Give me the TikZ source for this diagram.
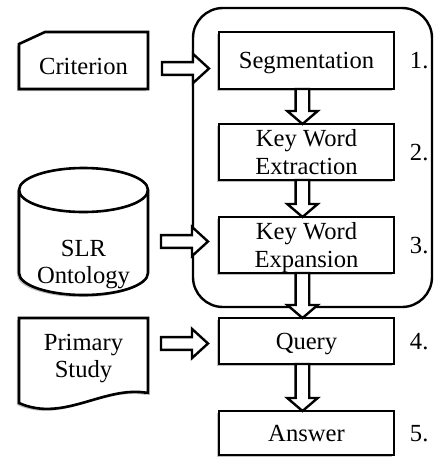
\documentclass[tikz,border=0pt]{standalone}
\usepackage{fontspec}
\setmainfont{Liberation Serif}
\usetikzlibrary{positioning,calc,shadows}

\newcommand{\fatright}[2]{%
  \draw[fat] let \p1=#1, \p2=#2 in
    (\x1,\y1+3.2pt) -- (\x2-8pt,\y1+3.2pt) -- (\x2-8pt,\y1+7.3pt) -- (\x2,\y1)
    -- (\x2-8pt,\y1-7.3pt) -- (\x2-8pt,\y1-3.2pt) -- (\x1,\y1-3.2pt) -- cycle;}
\newcommand{\fatdown}[2]{%
  \draw[fat] let \p1=#1, \p2=#2 in
    (\x1-3.4pt,\y1) -- (\x1-3.4pt,\y2+6.5pt) -- (\x1-7.6pt,\y2+6.5pt) -- (\x1,\y2)
    -- (\x1+7.6pt,\y2+6.5pt) -- (\x1+3.4pt,\y2+6.5pt) -- (\x1+3.4pt,\y1) -- cycle;}

\begin{document}
\begin{tikzpicture}[
  txt/.style={font=\fontsize{12.3}{13.6}\selectfont, align=center, text depth=-1.5pt},
  shade/.style={drop shadow={shadow xshift=-1pt, shadow yshift=-1pt, fill=black, opacity=.25}},
  box/.style={txt, draw, fill=white, line width=1.3pt, shade, minimum width=87.5pt, inner sep=1pt, outer sep=0pt},
  plain/.style={txt, minimum width=64.5pt, inner sep=1pt, outer sep=0pt},
  outline/.style={draw, fill=white, line width=1.3pt, line join=miter},
  num/.style={txt, inner sep=0pt, outer sep=0pt},
  fat/.style={draw, fill=white, line width=1.2pt, line join=miter},
  group/.style={draw, line width=1.2pt, rounded corners=15pt}
]
\useasboundingbox (0,0) rectangle (217.5pt,-228.5pt);
\node[box, minimum height=28.5pt] (seg) at (153.25pt,-30.25pt) {Segmentation};
\node[box, minimum height=28pt, below=17.5pt of seg] (kwext) {Key Word\\Extraction};
\node[box, minimum height=28pt, below=18.5pt of kwext] (kwexp) {Key Word\\Expansion};
\node[box, minimum height=23pt, below=22.5pt of kwexp] (query) {Query};
\node[box, minimum height=22pt, below=23.5pt of query] (answer) {Answer};
\node[num, right=8pt of seg] (n1) {1.};
\node[num, right=8pt of kwext] (n2) {2.};
\node[num, right=8pt of kwexp] (n3) {3.};
\node[num, right=8pt of query] (n4) {4.};
\node[num, right=8pt of answer] (n5) {5.};

\node[plain, minimum height=22.5pt, left=35.5pt of seg.south west, anchor=south east] (crit) {};
\draw[outline, shade] (crit.south west) -- (crit.north west) -- ([xshift=13pt,yshift=6pt]crit.north west)
  -- ([yshift=6pt]crit.north east) -- (crit.south east) -- cycle;
\node[txt] at (crit) {Criterion};

\node[plain, minimum height=33pt, below=70pt of crit] (onto) {};
\draw[outline, shade] ([yshift=19.5pt]onto.north west) -- ([yshift=11pt]onto.south west)
  arc[start angle=180, end angle=360, x radius=32.25pt, y radius=11pt]
  -- ([yshift=19.5pt]onto.north east)
  arc[start angle=0, end angle=180, x radius=32.25pt, y radius=11pt] -- cycle;
\draw[line width=1.3pt] ([yshift=19.5pt]onto.north west)
  arc[start angle=180, end angle=360, x radius=32.25pt, y radius=11pt];
\node[txt] at (onto) {SLR\\Ontology};

\node[plain, minimum height=37.5pt, left=35.5pt of query.north west, anchor=north east] (primary) {};
\draw[outline, shade] (primary.north west) -- ([yshift=-5pt]primary.south west)
  .. controls +(22.5pt,-10pt) and +(-22pt,4pt) .. (primary.south east)
  -- (primary.north east) -- cycle;
\node[txt] at (primary) {Primary\\Study};

\draw[group] ([xshift=-13pt,yshift=12pt]seg.north west) rectangle ([xshift=19pt,yshift=-17pt]kwexp.south east);

\fatright{([xshift=7pt,yshift=-1pt]crit.east)}{([xshift=-5pt]seg.west)}
\fatright{([xshift=6.5pt,yshift=10.25pt]onto.east)}{([xshift=-5.5pt]kwexp.west)}
\fatright{([xshift=6.5pt,yshift=6pt]primary.east)}{([xshift=-5.5pt]query.west)}
\fatdown{([xshift=-2pt]seg.south)}{(kwext.north)}
\fatdown{([xshift=-2pt]kwext.south)}{(kwexp.north)}
\fatdown{([xshift=-2pt]kwexp.south)}{(query.north)}
\fatdown{([xshift=-2pt]query.south)}{(answer.north)}
\end{tikzpicture}
\end{document}
